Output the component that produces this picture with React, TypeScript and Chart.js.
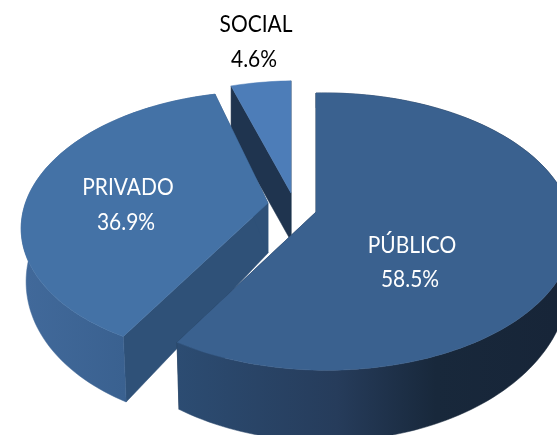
import React, { useEffect, useRef } from "react";
import { Chart, registerables } from "chart.js";

Chart.register(...registerables);

const categories = ["PÚBLICO", "PRIVADO", "SOCIAL"];
const shares = [58.5, 36.9, 4.6];

const sliceStyles = [
  {
    x0: 316, y0: 212, f: 245, g: 135.8, p: 0.141, q: 0.037, k: 0, d0: 43, d1: 28, sx: 0.986,
    top: "#3a618f", cut: "#1d3048",
    wall: [[0, "#2c4c72"], [0.42, "#263c5b"], [0.68, "#18283b"], [1, "#172538"]],
    wallFrom: 178, wallTo: 557, label: [412, 246], pct: [410, 280], text: "#ffffff",
  },
  {
    x0: 268, y0: 203, f: 228, g: 129, p: 0.16, q: -0.06, k: -5, d0: 50, d1: 18, sx: 0.98,
    top: "#4472a6", cut: "#2f5178",
    wall: [[0, "#41699a"], [1, "#3a6190"]],
    wallFrom: 25, wallTo: 125, label: [128, 188], pct: [126, 223], text: "#ffffff",
  },
  {
    x0: 291, y0: 193, f: 241, g: 128, p: 0.141, q: 0.037, k: 0, d0: 48, d1: 0, sx: 1,
    top: "#4d7db8", cut: "#1f344f",
    wall: [[0, "#1f344f"], [1, "#1f344f"]],
    wallFrom: 231, wallTo: 291, label: [256, 25], pct: [254, 60], text: "#000000",
  },
];

type S = (typeof sliceStyles)[number];

const project = (s: S, u: number, v: number, lower: boolean): [number, number] => {
  const w = 1 - s.p * v - s.q * u;
  const x = (s.f * u + s.k * v) / w;
  const y = (s.g * v) / w;
  if (!lower) return [s.x0 + x, s.y0 + y];
  return [s.x0 + x * s.sx, s.y0 + y + s.d0 + s.d1 * v];
};

const arcPts = (s: S, a0: number, a1: number, lower: boolean) => {
  const pts: [number, number][] = [];
  const n = Math.max(8, Math.ceil(((a1 - a0) / Math.PI) * 120));
  for (let i = 0; i <= n; i++) {
    const t = a0 + ((a1 - a0) * i) / n;
    pts.push(project(s, Math.cos(t), Math.sin(t), lower));
  }
  return pts;
};

const fillPoly = (ctx: CanvasRenderingContext2D, pts: [number, number][], fill: any) => {
  ctx.beginPath();
  pts.forEach(([x, y], i) => (i ? ctx.lineTo(x, y) : ctx.moveTo(x, y)));
  ctx.closePath();
  ctx.fillStyle = fill;
  ctx.fill();
  ctx.strokeStyle = fill;
  ctx.lineWidth = 0.5;
  ctx.stroke();
};

const drawText = (ctx: CanvasRenderingContext2D, text: string, x: number, y: number) => {
  ctx.save();
  ctx.translate(x, y);
  ctx.scale(0.91, 1);
  ctx.fillText(text, 0, 0);
  ctx.restore();
};

const pie3d = {
  id: "pie3d",
  beforeDatasetDraw(chart: any) {
    const ctx: CanvasRenderingContext2D = chart.ctx;
    const arcs = chart.getDatasetMeta(0).data;
    const order = [2, 1, 0];
    ctx.save();
    order.forEach((i) => {
      const s = sliceStyles[i];
      const { startAngle: a0, endAngle: a1 } = arcs[i];
      const upper = arcPts(s, a0, a1, false);
      const lower = arcPts(s, a0, a1, true);
      const cA: [number, number] = [s.x0, s.y0];
      const cB = project(s, 0, 0, true);
      fillPoly(ctx, [cA, upper[0], lower[0], cB], s.cut);
      fillPoly(ctx, [cA, upper[upper.length - 1], lower[lower.length - 1], cB], s.cut);
      const grad = ctx.createLinearGradient(s.wallFrom, 0, s.wallTo, 0);
      s.wall.forEach(([o, c]) => grad.addColorStop(o as number, c as string));
      if (i !== 2) fillPoly(ctx, [...upper, ...lower.slice().reverse()], grad);
      fillPoly(ctx, [cA, ...upper], s.top);
    });
    ctx.font = '400 23px Lato, "Open Sans", sans-serif';
    ctx.textAlign = "center";
    ctx.textBaseline = "middle";
    categories.forEach((name, i) => {
      const s = sliceStyles[i];
      ctx.fillStyle = s.text;
      drawText(ctx, name, s.label[0], s.label[1]);
      drawText(ctx, shares[i].toFixed(1) + "%", s.pct[0], s.pct[1]);
    });
    ctx.restore();
    return false;
  },
};

export default function App() {
  const ref = useRef<HTMLCanvasElement>(null);
  useEffect(() => {
    const chart = new Chart(ref.current as HTMLCanvasElement, {
      type: "pie",
      data: {
        labels: categories,
        datasets: [{ data: shares, backgroundColor: sliceStyles.map((s) => s.top), borderWidth: 0 }],
      },
      options: {
        responsive: false,
        animation: false,
        plugins: { legend: { display: false }, tooltip: { enabled: false } },
      },
      plugins: [pie3d],
    } as any);
    return () => chart.destroy();
  }, []);
  return (
    <canvas
      ref={ref}
      width={557}
      height={435}
      style={{ position: "absolute", left: 0, top: 0, width: 557, height: 435, background: "#fff" }}
    />
  );
}
